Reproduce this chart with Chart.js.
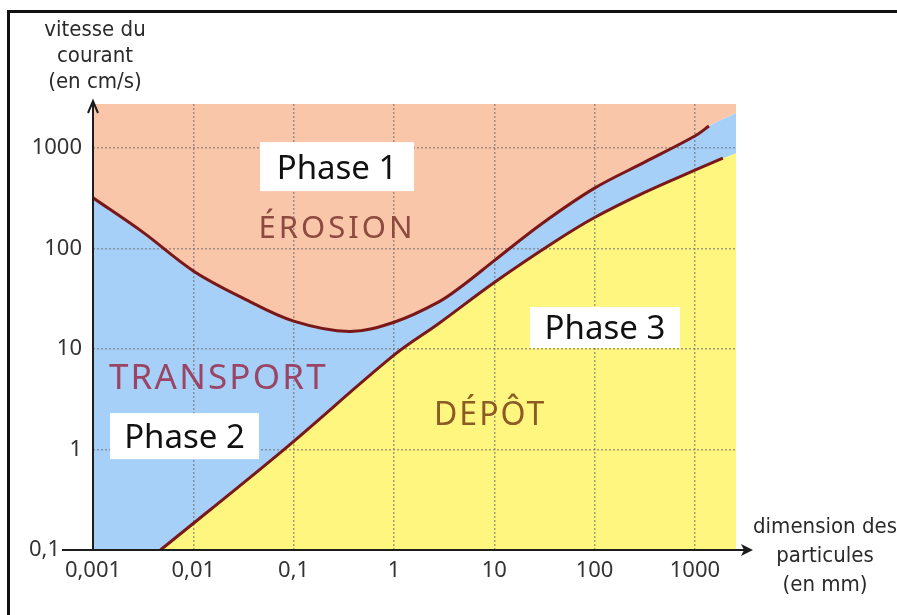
<!DOCTYPE html>
<html lang="fr">
<head>
<meta charset="utf-8">
<title>Vitesse du courant et dimension des particules</title>
<script src="https://cdn.jsdelivr.net/npm/chart.js@4.4.1/dist/chart.umd.min.js"></script>
<style>
  html, body { margin: 0; padding: 0; background: #fff; }
  #wrap { position: relative; width: 897px; height: 615px; overflow: hidden; }
  #frame {
    position: absolute; left: 7px; top: 10px; right: -10px; bottom: -10px;
    border-top: 3px solid #111; border-left: 3px solid #111; pointer-events: none;
  }
</style>
</head>
<body>
<div id="wrap">
  <canvas id="chart" width="897" height="615"></canvas>
  <div id="frame"></div>
</div>
<script>
// particle size (mm) / current speed (cm/s)
const erosionSize  = [0.001, 0.00316, 0.01, 0.0316, 0.1, 0.36, 1, 2.8, 5, 10, 30, 100, 316, 1000, 1380];
const erosionSpeed = [320, 145, 60, 32, 19, 15, 18.5, 29.5, 44, 76, 178, 400, 725, 1320, 1660];

const depotSize  = [0.0047, 0.08, 1, 2.8, 10, 40, 100, 316, 1000, 1900];
const depotSpeed = [0.1, 1, 8.7, 18, 46, 117, 204, 363, 603, 794];

// where the coloured bands meet the right edge of the plot
const edgeSize = 2570;
const erosionEdgeSpeed = 2240;
const depotEdgeSpeed = 890;

const xTicks = [0.001, 0.01, 0.1, 1, 10, 100, 1000];
const xTickLabels = ['0,001', '0,01', '0,1', '1', '10', '100', '1000'];
const yTicks = [0.1, 1, 10, 100, 1000];
const yTickLabels = ['0,1\u2003', '1', '10', '100', '1000'];

const phaseLabels = ['Phase 1', 'Phase 2', 'Phase 3'];
const domainLabels = ['ÉROSION', 'TRANSPORT', 'DÉPÔT'];

const yTitle = ['vitesse du', 'courant', '(en cm/s)'];
const xTitle = ['dimension des', 'particules', '(en mm)'];

// label anchors (data coords) and box sizes
const phaseSpots = [
  { x: 0.271, y: 655, w: 154, h: 49 },
  { x: 0.00817, y: 1.36, w: 149, h: 46 },
  { x: 127, y: 16.4, w: 150, h: 41 }
];
const domainSpots = [
  { x: 0.271, y: 166, size: 31, spacing: 3, color: '#8d4a3f' },
  { x: 0.0178, y: 5.3, size: 35, spacing: 2.2, color: '#9a4565' },
  { x: 9.1, y: 2.28, size: 32, spacing: 2, color: '#8c5a25' }
];

const pts = (xs, ys) => xs.map((x, i) => ({ x, y: ys[i] }));

const curveColor = '#7a1719';
const erosionColor = '#f9c6aa';
const transportColor = '#a6d0f7';
const depotColor = '#fff680';
const titleFont = "'Liberation Sans Narrow', 'DejaVu Sans Condensed', 'Noto Sans', sans-serif";
const labelFont = "'Comic Sans MS', 'Noto Sans', sans-serif";

const common = { pointRadius: 0, tension: 0.35 };

const decor = {
  id: 'decor',
  afterDatasetsDraw(chart) {
    const { ctx, chartArea: a, scales: { x, y } } = chart;
    ctx.save();

    // region names
    domainLabels.forEach((t, i) => {
      const s = domainSpots[i];
      ctx.font = `${s.size}px ${labelFont}`;
      ctx.letterSpacing = s.spacing + 'px';
      ctx.fillStyle = s.color;
      ctx.textAlign = 'center';
      ctx.textBaseline = 'alphabetic';
      ctx.fillText(t, x.getPixelForValue(s.x), y.getPixelForValue(s.y) + s.size * 0.36);
    });
    ctx.letterSpacing = '0px';

    // white phase boxes
    phaseLabels.forEach((t, i) => {
      const s = phaseSpots[i];
      const cx = x.getPixelForValue(s.x), cy = y.getPixelForValue(s.y);
      ctx.fillStyle = '#fff';
      ctx.fillRect(cx - s.w / 2, cy - s.h / 2, s.w, s.h);
      ctx.font = `33px ${labelFont}`;
      ctx.fillStyle = '#111';
      ctx.textAlign = 'center';
      ctx.fillText(t, cx, cy + 12);
    });

    // axes with arrows
    ctx.strokeStyle = '#1d1d1d';
    ctx.fillStyle = '#1d1d1d';
    ctx.lineWidth = 2;
    ctx.beginPath();
    ctx.moveTo(a.left, a.bottom);
    ctx.lineTo(a.left, a.top - 2);
    ctx.moveTo(a.left - 31, a.bottom);
    ctx.lineTo(a.right + 14, a.bottom);
    ctx.stroke();
    ctx.beginPath();
    ctx.moveTo(a.left - 5, a.top + 9);
    ctx.lineTo(a.left, a.top - 3);
    ctx.lineTo(a.left + 5, a.top + 9);
    ctx.stroke();
    ctx.beginPath();
    ctx.moveTo(a.right + 17, a.bottom);
    ctx.lineTo(a.right + 5, a.bottom - 6);
    ctx.lineTo(a.right + 8, a.bottom);
    ctx.lineTo(a.right + 5, a.bottom + 6);
    ctx.closePath();
    ctx.fill();

    // axis titles
    ctx.font = `22px ${titleFont}`;
    ctx.fillStyle = '#2a2a2a';
    ctx.textAlign = 'center';
    yTitle.forEach((t, i) => ctx.fillText(t, 95, 36 + i * 26));
    xTitle.forEach((t, i) => ctx.fillText(t, 825, 533 + i * 29));

    ctx.restore();
  }
};

new Chart(document.getElementById('chart'), {
  type: 'line',
  data: {
    datasets: [
      { ...common, data: pts(erosionSize, erosionSpeed), borderColor: curveColor, borderWidth: 3, fill: false },
      { ...common, data: pts(depotSize, depotSpeed), borderColor: curveColor, borderWidth: 3, fill: false },
      { ...common, data: pts(depotSize.concat(edgeSize), depotSpeed.concat(depotEdgeSpeed)), borderWidth: 0, backgroundColor: depotColor, fill: 'start' },
      { ...common, data: pts(erosionSize.concat(edgeSize), erosionSpeed.concat(erosionEdgeSpeed)), borderWidth: 0, backgroundColor: erosionColor, fill: 'end' },
      { ...common, data: pts(erosionSize.concat(edgeSize), erosionSpeed.concat(erosionEdgeSpeed)), borderWidth: 0, backgroundColor: transportColor, fill: 'start' }
    ]
  },
  options: {
    responsive: false,
    animation: false,
    events: [],
    layout: { padding: { top: 104, right: 161, left: 0, bottom: 0 } },
    plugins: {
      legend: { display: false },
      tooltip: { enabled: false },
      filler: { drawTime: 'beforeDraw' }
    },
    scales: {
      x: {
        type: 'logarithmic',
        min: 0.001,
        max: edgeSize,
        afterBuildTicks: s => { s.ticks = xTicks.map(v => ({ value: v })); },
        afterFit: s => { s.height = 65; },
        grid: { color: 'rgba(110,110,110,0.65)', lineWidth: 1.5, drawTicks: false },
        border: { display: false, dash: [2, 2] },
        ticks: {
          autoSkip: false, maxRotation: 0, padding: 8,
          color: '#333', font: { family: 'Noto Sans', size: 22 },
          callback: (v, i) => xTickLabels[i]
        }
      },
      y: {
        type: 'logarithmic',
        min: 0.1,
        max: 2750,
        afterBuildTicks: s => { s.ticks = yTicks.map(v => ({ value: v })); },
        afterFit: s => { s.width = 93; },
        grid: { color: 'rgba(110,110,110,0.65)', lineWidth: 1.5, drawTicks: false },
        border: { display: false, dash: [2, 2] },
        ticks: {
          autoSkip: false, padding: 11,
          color: '#333', font: { family: 'Noto Sans', size: 22 },
          callback: (v, i) => yTickLabels[i]
        }
      }
    }
  },
  plugins: [decor]
});
</script>
</body>
</html>
